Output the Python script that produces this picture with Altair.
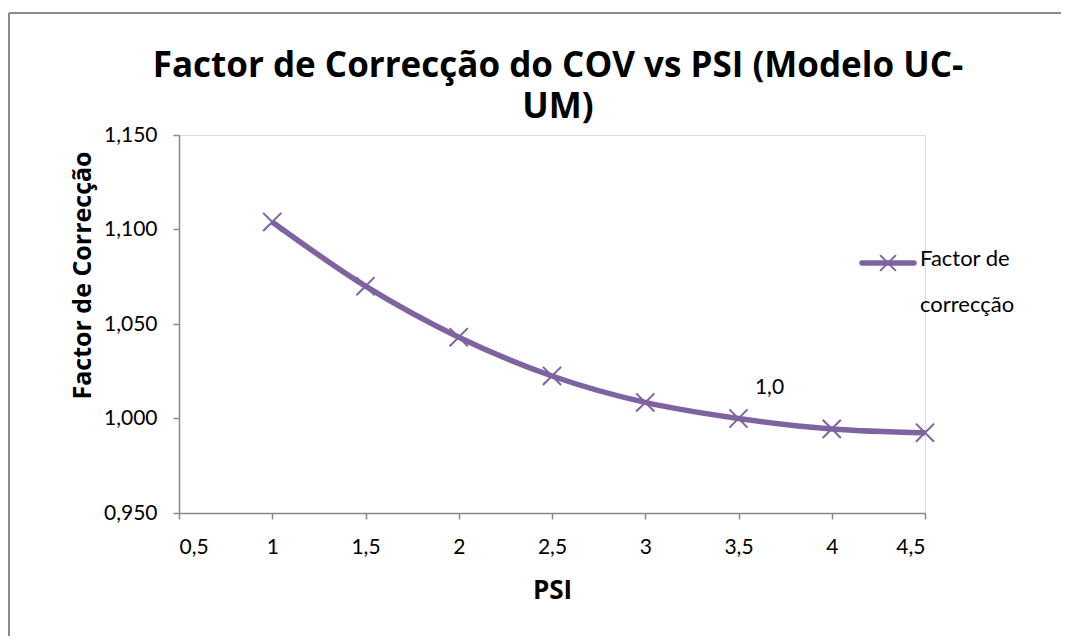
import altair as alt
import pandas as pd

psi = [1.0, 1.5, 2.0, 2.5, 3.0, 3.5, 4.0, 4.5]
factor = [1.104, 1.070, 1.043, 1.0225, 1.0085, 1.000, 0.9945, 0.9925]
series_name = "Factor de correcção"
label_x = [3.5]
label_y = [1.000]
label_text = ["1,0"]
legend_lines = ["Factor de", "correcção"]
title_lines = ["Factor de Correcção do COV vs PSI (Modelo UC-", "UM)"]

PURPLE = "#7F63A1"
AXIS = "#888888"
X_PATH = "M-1,-1L1,1M-1,1L1,-1"

df = pd.DataFrame({"psi": psi, "factor": factor, "serie": series_name})
lab = pd.DataFrame({"psi": label_x, "factor": label_y, "txt": label_text})

W, H = 746, 378

xs = alt.Scale(domain=[0.5, 4.5], nice=False, zero=False)
ys = alt.Scale(domain=[0.95, 1.15], nice=False, zero=False)

x_axis = alt.Axis(
    values=[0.5, 1, 1.5, 2, 2.5, 3, 3.5, 4, 4.5], format="~g",
    labelExpr="replace(datum.label, '.', ',')",
    grid=False, domainColor=AXIS, tickColor=AXIS, tickSize=6, domainWidth=1.5, tickWidth=1.5,
    labelFont="Lato", labelFontSize=21, labelColor="#000000", labelPadding=17,
    title="PSI", titleFont="Open Sans", titleFontWeight="bold", titleFontSize=26,
    titleColor="#000000", titleY=77, titleBaseline="middle",
)
y_axis = alt.Axis(
    values=[0.95, 1.0, 1.05, 1.1, 1.15], format=".3f",
    labelExpr="replace(datum.label, '.', ',')",
    grid=False, domainColor=AXIS, tickColor=AXIS, tickSize=6, domainWidth=1.5, tickWidth=1.5,
    labelFont="Lato", labelFontSize=21, labelColor="#000000", labelPadding=16,
    title="Factor de Correcção", titleFont="Open Sans", titleFontWeight="bold", titleFontSize=25,
    titleColor="#000000", titleX=-97, titleY=140, titleBaseline="middle", titleAngle=-90,
    titleAlign="center",
)

base = alt.Chart(df)
line = base.mark_line(color=PURPLE, strokeWidth=5.5, interpolate="monotone").encode(
    x=alt.X("psi:Q", scale=xs, axis=x_axis),
    y=alt.Y("factor:Q", scale=ys, axis=y_axis),
)
pts = base.mark_point(shape=X_PATH, size=330, filled=False, color=PURPLE, strokeWidth=2, opacity=1).encode(
    x=alt.X("psi:Q", scale=xs),
    y=alt.Y("factor:Q", scale=ys),
)
dlabel = alt.Chart(lab).mark_text(font="Lato", fontSize=21, color="#000000", dx=31, dy=-31).encode(
    x=alt.X("psi:Q", scale=xs),
    y=alt.Y("factor:Q", scale=ys),
    text="txt:N",
)

one = pd.DataFrame({"k": [0]})

# legend (drawn manually)
leg_line = alt.Chart(one).mark_rule(color=PURPLE, strokeWidth=5.5, strokeCap="round").encode(
    x=alt.value(683), x2=alt.value(735), y=alt.value(128)
)
leg_pt = alt.Chart(one).mark_point(shape=X_PATH, size=250, filled=False, color=PURPLE, strokeWidth=2, opacity=1).encode(
    x=alt.value(709), y=alt.value(128)
)
leg_txt = alt.Chart(pd.DataFrame({"t": [legend_lines]})).mark_text(
    font="Lato", fontSize=22, color="#000000", align="left", baseline="top", lineHeight=46
).encode(x=alt.value(741), y=alt.value(114), text="t:N")

# chart title
title_txt = alt.Chart(pd.DataFrame({"t": [title_lines]})).mark_text(
    font="Open Sans", fontSize=35, fontWeight="bold", color="#000000",
    align="center", baseline="alphabetic", lineHeight=41
).encode(x=alt.value(W / 2 + 6), y=alt.value(-58), text="t:N")

# outer frame (left and top edges)
frame_l = alt.Chart(one).mark_rule(color="#8a8a8a", strokeWidth=2).encode(
    x=alt.value(-170), y=alt.value(-122), y2=alt.value(600)
)
frame_t = alt.Chart(one).mark_rule(color="#8a8a8a", strokeWidth=2).encode(
    x=alt.value(-170), x2=alt.value(1000), y=alt.value(-122)
)

chart = alt.layer(frame_l, frame_t, title_txt, line, pts, dlabel, leg_line, leg_pt, leg_txt).properties(
    width=W, height=H,
    autosize=alt.AutoSizeParams(type="none"),
    padding={"left": 171, "top": 127, "right": 136, "bottom": 123},
).configure_view(stroke=None).configure(background="white")

chart.save("out.html", embed_options={"renderer": "svg", "actions": False})
